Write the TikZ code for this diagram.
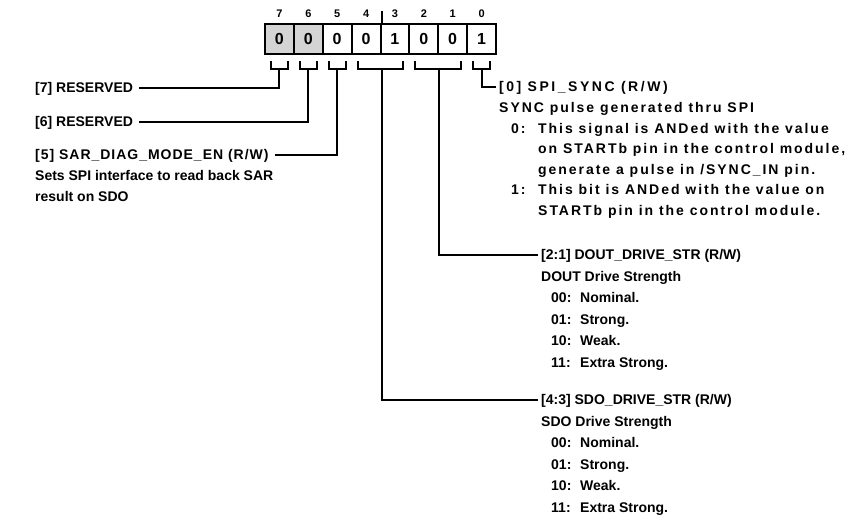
\documentclass[tikz,border=0pt]{standalone}
\usepackage{fontspec}
\setmainfont{Liberation Sans}[BoldFont={Liberation Sans Bold}]
\definecolor{resgray}{HTML}{D4D4D4}
\newcommand{\lsp}[1]{\addfontfeatures{LetterSpace=#1}}
\begin{document}
\begin{tikzpicture}[x=1pt,y=-1pt,
  cell/.style={draw,line width=2pt,minimum width=28.875pt,minimum height=30pt,inner sep=0pt,
    font=\fontsize{16}{16}\selectfont\bfseries},
  rescell/.style={cell,fill=resgray},
  bitno/.style={inner sep=0pt,font=\fontsize{11}{11}\selectfont\bfseries},
  wire/.style={line width=2pt},
  hdr/.style={anchor=base west,inner sep=0pt,text height=10pt,text depth=0pt,
    font=\fontsize{14}{14}\selectfont\bfseries},
  bodytop/.style={anchor=base west,inner sep=0pt,font=\fontsize{14}{20.6}\selectfont\bfseries},
  bodylow/.style={anchor=base west,inner sep=0pt,font=\fontsize{14}{21.5}\selectfont\bfseries}]
\useasboundingbox (0,0) rectangle (847,521);

% register cells
\node[rescell] (c7) at (279.44,39) {0};
\node[rescell] (c6) at (308.31,39) {0};
\node[cell] (c5) at (337.19,39) {0};
\node[cell] (c4) at (366.06,39) {0};
\node[cell] (c3) at (394.94,39) {1};
\node[cell] (c2) at (423.81,39) {0};
\node[cell] (c1) at (452.69,39) {0};
\node[cell] (c0) at (481.56,39) {1};

% bit numbers
\foreach \b in {7,6,5,4,3,2,1,0}
  \node[bitno] (n\b) at ([yshift=9pt]c\b.north) {\b};
\draw[wire] (c4.north east) -- ++(0,-12);

% brackets
\draw[wire] ([xshift=7pt,yshift=-6pt]c7.south west) -- ++(0,8) -| ([xshift=-7pt,yshift=-6pt]c7.south east);
\draw[wire] ([xshift=7pt,yshift=-6pt]c6.south west) -- ++(0,8) -| ([xshift=-7pt,yshift=-6pt]c6.south east);
\draw[wire] ([xshift=7pt,yshift=-6pt]c5.south west) -- ++(0,8) -| ([xshift=-7pt,yshift=-6pt]c5.south east);
\draw[wire] ([xshift=7pt,yshift=-6pt]c4.south west) -- ++(0,8) -| ([xshift=-7pt,yshift=-6pt]c3.south east);
\draw[wire] ([xshift=7pt,yshift=-6pt]c2.south west) -- ++(0,8) -| ([xshift=-7pt,yshift=-6pt]c1.south east);
\draw[wire] ([xshift=7pt,yshift=-6pt]c0.south west) -- ++(0,8) -| ([xshift=-7pt,yshift=-6pt]c0.south east);

% labels
\node[hdr] (h7) at (35,93) {[7] RESERVED};
\node[hdr] (h6) at (35,127) {[6] RESERVED};
\node[hdr] (h5) at (35,160) {\lsp{7}[5] SAR\_DIAG\_MODE\_EN (R/W)};
\node[bodytop] (d5) at ([yshift=-20.5pt]h5.base west) {\begin{tabular}[t]{@{}l@{}}
Sets SPI interface to read back SAR\\
result on SDO\end{tabular}};

\node[hdr] (h0) at (499,92) {\lsp{18}[0] SPI\_SYNC (R/W)};
\node[bodytop] (d0) at ([yshift=-20.6pt]h0.base west) {\lsp{14}\begin{tabular}[t]{@{}l@{}}
SYNC pulse generated thru SPI\\
\makebox[39pt][l]{\hspace*{12pt}0:}This signal is ANDed with the value\\
\hspace*{39pt}on STARTb pin in the control module,\\
\hspace*{39pt}generate a pulse in /SYNC\_IN pin.\\
\makebox[39pt][l]{\hspace*{12pt}1:}This bit is ANDed with the value on\\
\hspace*{39pt}STARTb pin in the control module.\end{tabular}};

\node[hdr] (h21) at (541,260) {[2:1] DOUT\_DRIVE\_STR (R/W)};
\node[bodylow] (d21) at ([yshift=-21.5pt]h21.base west) {\begin{tabular}[t]{@{}l@{}}
DOUT Drive Strength\\
\makebox[39pt][l]{\hspace*{10pt}00:}Nominal.\\
\makebox[39pt][l]{\hspace*{10pt}01:}Strong.\\
\makebox[39pt][l]{\hspace*{10pt}10:}Weak.\\
\makebox[39pt][l]{\hspace*{10pt}11:}Extra Strong.\end{tabular}};

\node[hdr] (h43) at (541,405) {[4:3] SDO\_DRIVE\_STR (R/W)};
\node[bodylow] (d43) at ([yshift=-21.5pt]h43.base west) {\begin{tabular}[t]{@{}l@{}}
SDO Drive Strength\\
\makebox[39pt][l]{\hspace*{10pt}00:}Nominal.\\
\makebox[39pt][l]{\hspace*{10pt}01:}Strong.\\
\makebox[39pt][l]{\hspace*{10pt}10:}Weak.\\
\makebox[39pt][l]{\hspace*{10pt}11:}Extra Strong.\end{tabular}};

% connectors
\draw[wire] ([yshift=-14pt]c7.south) |- ([xshift=6pt]h7.east);
\draw[wire] ([yshift=-14pt]c6.south) |- ([xshift=6pt]h6.east);
\draw[wire] ([yshift=-14pt]c5.south) |- ([xshift=6pt]h5.east);
\draw[wire] ([yshift=-14pt]c4.south east) |- ([xshift=-3pt]h43.west);
\draw[wire] ([yshift=-14pt]c2.south east) |- ([xshift=-3pt]h21.west);
\draw[wire] ([yshift=-14pt]c0.south) |- ([xshift=-3pt]h0.west);
\end{tikzpicture}
\end{document}
